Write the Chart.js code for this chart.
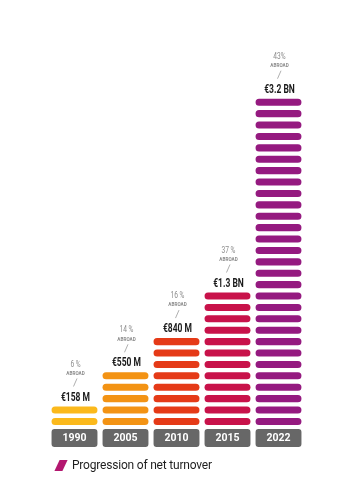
<!DOCTYPE html>
<html>
<head>
<meta charset="utf-8">
<script src="https://cdn.jsdelivr.net/npm/chart.js@4.4.0/dist/chart.umd.min.js"></script>
<style>
  html, body { margin: 0; padding: 0; background: #fff; }
  #wrap { position: relative; width: 358px; height: 501px; }
  #legend { position: absolute; left: 55px; top: 458px; font-family: Roboto, sans-serif; font-size: 12px; color: #1e1e1e; display: flex; align-items: center; letter-spacing: -0.2px; }
  #legend .mark { display: inline-block; width: 8px; height: 11px; background: #b3176f; transform: skewX(-25deg); margin-right: 7px; margin-left: 2px; }
</style>
</head>
<body>
<div id="wrap">
  <canvas id="turnover" width="358" height="501"></canvas>
  <div id="legend"><span class="mark"></span><span>Progression of net turnover</span></div>
</div>
<script>
// data
var years = ['1990', '2005', '2010', '2015', '2022'];
var turnoverLabels = ['€158 M', '€550 M', '€840 M', '€1.3 BN', '€3.2 BN'];
var segments = [2, 5, 8, 12, 29];        // number of stacked pills per bar
var abroadPct = ['6 %', '14 %', '16 %', '37 %', '43%'];
var barColors = ['#fbb91c', '#f39314', '#e53a17', '#c8124a', '#951a80'];

var SEG = 0.62;   // pill height in segment units
var yearBox = [-1.93, -0.35];

var datasets = [];
var maxSeg = Math.max.apply(null, segments);
for (var i = 0; i < maxSeg; i++) {
    datasets.push({
        data: segments.map(function(n) { return i < n ? [i, i + SEG] : null; }),
        backgroundColor: barColors,
        borderRadius: 3.5,
        borderSkipped: false,
        grouped: false
    });
}
// grey year boxes under the bars
datasets.push({
    data: years.map(function() { return yearBox; }),
    backgroundColor: '#676767',
    borderRadius: 3,
    borderSkipped: false,
    grouped: false
});

function squeezeText(ctx, text, x, y, sx) {
    ctx.save();
    ctx.translate(x, y);
    ctx.scale(sx, 1);
    ctx.fillText(text, 0, 0);
    ctx.restore();
}

var labelsPlugin = {
    id: 'barLabels',
    afterDatasetsDraw: function(chart) {
        var ctx = chart.ctx;
        var xs = chart.scales.x, ys = chart.scales.y;
        ctx.save();
        ctx.textAlign = 'center';
        ctx.textBaseline = 'middle';
        years.forEach(function(yr, j) {
            var x = xs.getPixelForValue(j);
            var top = ys.getPixelForValue(segments[j] - 1 + SEG);

            // value
            ctx.fillStyle = '#1b1b1b';
            ctx.font = 'bold 12.5px Roboto';
            squeezeText(ctx, turnoverLabels[j], x + 1, top - 9, 0.68);

            // slash
            ctx.strokeStyle = '#9a9a9a';
            ctx.lineWidth = 0.8;
            ctx.beginPath();
            ctx.moveTo(x + 2.5, top - 28);
            ctx.lineTo(x - 1, top - 20);
            ctx.stroke();

            // abroad share
            ctx.fillStyle = '#8c8c8c';
            ctx.font = 'bold 5.5px Roboto';
            squeezeText(ctx, 'ABROAD', x + 1, top - 33, 0.85);
            ctx.font = '8.5px Roboto';
            squeezeText(ctx, abroadPct[j], x + 1, top - 42, 0.78);

            // year
            ctx.fillStyle = '#ffffff';
            ctx.font = 'bold 10.5px Roboto';
            ctx.fillText(yr, x, ys.getPixelForValue((yearBox[0] + yearBox[1]) / 2) + 0.5);
        });
        ctx.restore();
    }
};

var chart = new Chart(document.getElementById('turnover'), {
    type: 'bar',
    data: { labels: years, datasets: datasets },
    options: {
        responsive: false,
        animation: false,
        devicePixelRatio: 1,
        layout: { padding: { left: 49, right: 54, top: 0, bottom: 0 } },
        datasets: { bar: { barPercentage: 1, categoryPercentage: 0.9 } },
        scales: {
            x: { display: false },
            y: { display: false, min: -6.67, max: 37.28 }
        },
        plugins: { legend: { display: false }, tooltip: { enabled: false } }
    },
    plugins: [labelsPlugin]
});
</script>
</body>
</html>
